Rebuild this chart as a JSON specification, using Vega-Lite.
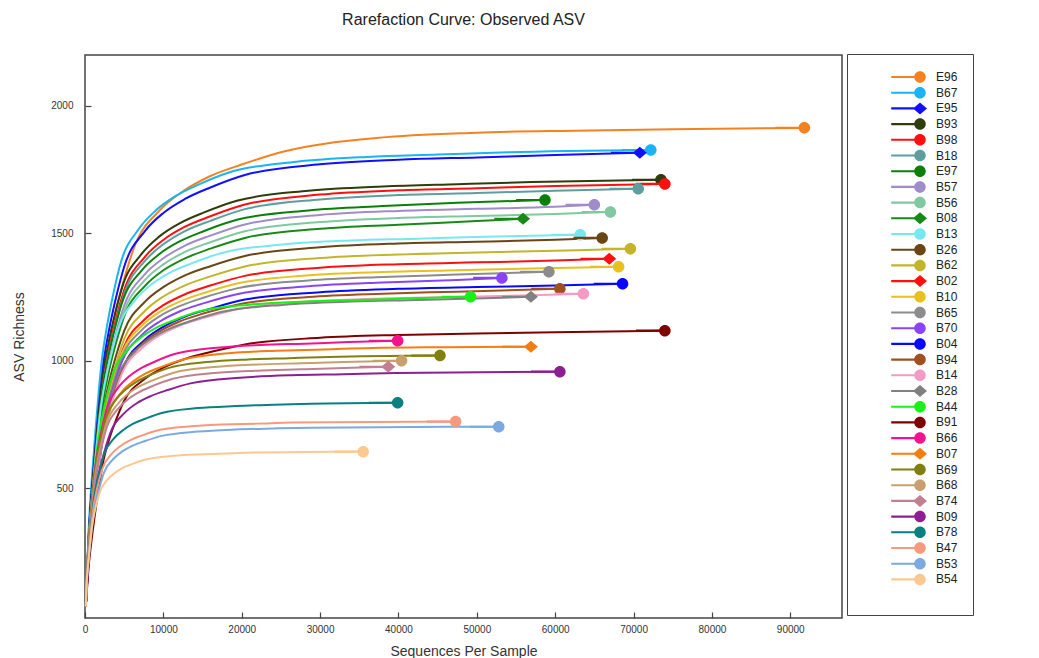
{
"$schema":"https://vega.github.io/schema/vega-lite/v6.json",
"width":757,"height":563,
"autosize":{"type":"none"},
"padding":{"left":85,"top":55,"right":197,"bottom":40},
"background":"white",
"title":{"text":"Rarefaction Curve: Observed ASV","fontSize":16,"fontWeight":"normal","font":"Liberation Sans","color":"#222","offset":26,"anchor":"middle"},
"datasets":{"curves":[
{"s":"E96","x":100,"y":35},{"s":"E96","x":625,"y":345},{"s":"E96","x":1250,"y":574},{"s":"E96","x":1875,"y":766},{"s":"E96","x":3000,"y":1053},{"s":"E96","x":3875,"y":1187},{"s":"E96","x":5000,"y":1321},{"s":"E96","x":6250,"y":1443},{"s":"E96","x":9500,"y":1589},{"s":"E96","x":12500,"y":1665},{"s":"E96","x":15875,"y":1723},{"s":"E96","x":20000,"y":1770},{"s":"E96","x":25500,"y":1822},{"s":"E96","x":37500,"y":1875},{"s":"E96","x":50000,"y":1895},{"s":"E96","x":62500,"y":1903},{"s":"E96","x":75000,"y":1909},{"s":"E96","x":91800,"y":1914},
{"s":"B67","x":100,"y":35},{"s":"B67","x":450,"y":329},{"s":"B67","x":900,"y":548},{"s":"B67","x":1350,"y":731},{"s":"B67","x":2160,"y":1005},{"s":"B67","x":2790,"y":1133},{"s":"B67","x":3600,"y":1261},{"s":"B67","x":4500,"y":1378},{"s":"B67","x":6840,"y":1516},{"s":"B67","x":9000,"y":1589},{"s":"B67","x":11430,"y":1644},{"s":"B67","x":14400,"y":1690},{"s":"B67","x":18360,"y":1739},{"s":"B67","x":27000,"y":1781},{"s":"B67","x":36000,"y":1800},{"s":"B67","x":45000,"y":1809},{"s":"B67","x":54000,"y":1818},{"s":"B67","x":72200,"y":1827},
{"s":"E95","x":100,"y":35},{"s":"E95","x":500,"y":327},{"s":"E95","x":1000,"y":545},{"s":"E95","x":1500,"y":726},{"s":"E95","x":2400,"y":999},{"s":"E95","x":3100,"y":1126},{"s":"E95","x":4000,"y":1253},{"s":"E95","x":5000,"y":1369},{"s":"E95","x":7600,"y":1507},{"s":"E95","x":10000,"y":1580},{"s":"E95","x":12700,"y":1634},{"s":"E95","x":16000,"y":1680},{"s":"E95","x":20400,"y":1729},{"s":"E95","x":30000,"y":1771},{"s":"E95","x":40000,"y":1789},{"s":"E95","x":50000,"y":1798},{"s":"E95","x":60000,"y":1807},{"s":"E95","x":70800,"y":1816},
{"s":"B93","x":100,"y":35},{"s":"B93","x":475,"y":308},{"s":"B93","x":950,"y":513},{"s":"B93","x":1425,"y":684},{"s":"B93","x":2280,"y":941},{"s":"B93","x":2945,"y":1060},{"s":"B93","x":3800,"y":1180},{"s":"B93","x":4750,"y":1289},{"s":"B93","x":7220,"y":1419},{"s":"B93","x":9500,"y":1488},{"s":"B93","x":12065,"y":1539},{"s":"B93","x":15200,"y":1582},{"s":"B93","x":19380,"y":1628},{"s":"B93","x":28500,"y":1667},{"s":"B93","x":38000,"y":1684},{"s":"B93","x":47500,"y":1693},{"s":"B93","x":57000,"y":1701},{"s":"B93","x":73500,"y":1710},
{"s":"B98","x":100,"y":35},{"s":"B98","x":500,"y":305},{"s":"B98","x":1000,"y":508},{"s":"B98","x":1500,"y":678},{"s":"B98","x":2400,"y":932},{"s":"B98","x":3100,"y":1050},{"s":"B98","x":4000,"y":1169},{"s":"B98","x":5000,"y":1277},{"s":"B98","x":7600,"y":1406},{"s":"B98","x":10000,"y":1474},{"s":"B98","x":12700,"y":1525},{"s":"B98","x":16000,"y":1567},{"s":"B98","x":20400,"y":1613},{"s":"B98","x":30000,"y":1652},{"s":"B98","x":40000,"y":1669},{"s":"B98","x":50000,"y":1677},{"s":"B98","x":60000,"y":1686},{"s":"B98","x":74000,"y":1694},
{"s":"B18","x":100,"y":35},{"s":"B18","x":500,"y":302},{"s":"B18","x":1000,"y":503},{"s":"B18","x":1500,"y":670},{"s":"B18","x":2400,"y":921},{"s":"B18","x":3100,"y":1039},{"s":"B18","x":4000,"y":1156},{"s":"B18","x":5000,"y":1263},{"s":"B18","x":7600,"y":1390},{"s":"B18","x":10000,"y":1457},{"s":"B18","x":12700,"y":1508},{"s":"B18","x":16000,"y":1549},{"s":"B18","x":20400,"y":1595},{"s":"B18","x":30000,"y":1633},{"s":"B18","x":40000,"y":1650},{"s":"B18","x":50000,"y":1658},{"s":"B18","x":60000,"y":1667},{"s":"B18","x":70600,"y":1675},
{"s":"E97","x":100,"y":35},{"s":"E97","x":475,"y":294},{"s":"E97","x":950,"y":489},{"s":"E97","x":1425,"y":652},{"s":"E97","x":2280,"y":897},{"s":"E97","x":2945,"y":1011},{"s":"E97","x":3800,"y":1125},{"s":"E97","x":4750,"y":1230},{"s":"E97","x":7220,"y":1354},{"s":"E97","x":9500,"y":1419},{"s":"E97","x":12065,"y":1468},{"s":"E97","x":15200,"y":1509},{"s":"E97","x":19380,"y":1553},{"s":"E97","x":28500,"y":1590},{"s":"E97","x":38000,"y":1607},{"s":"E97","x":47500,"y":1620},{"s":"E97","x":58700,"y":1631},
{"s":"B57","x":100,"y":35},{"s":"B57","x":500,"y":290},{"s":"B57","x":1000,"y":484},{"s":"B57","x":1500,"y":645},{"s":"B57","x":2400,"y":887},{"s":"B57","x":3100,"y":999},{"s":"B57","x":4000,"y":1112},{"s":"B57","x":5000,"y":1215},{"s":"B57","x":7600,"y":1338},{"s":"B57","x":10000,"y":1402},{"s":"B57","x":12700,"y":1451},{"s":"B57","x":16000,"y":1491},{"s":"B57","x":20400,"y":1535},{"s":"B57","x":30000,"y":1572},{"s":"B57","x":40000,"y":1588},{"s":"B57","x":50000,"y":1596},{"s":"B57","x":60000,"y":1604},{"s":"B57","x":65000,"y":1612},
{"s":"B56","x":100,"y":35},{"s":"B56","x":500,"y":285},{"s":"B56","x":1000,"y":475},{"s":"B56","x":1500,"y":634},{"s":"B56","x":2400,"y":871},{"s":"B56","x":3100,"y":982},{"s":"B56","x":4000,"y":1093},{"s":"B56","x":5000,"y":1194},{"s":"B56","x":7600,"y":1315},{"s":"B56","x":10000,"y":1378},{"s":"B56","x":12700,"y":1426},{"s":"B56","x":16000,"y":1465},{"s":"B56","x":20400,"y":1508},{"s":"B56","x":30000,"y":1544},{"s":"B56","x":40000,"y":1560},{"s":"B56","x":50000,"y":1568},{"s":"B56","x":60000,"y":1576},{"s":"B56","x":67050,"y":1584},
{"s":"B08","x":100,"y":35},{"s":"B08","x":500,"y":280},{"s":"B08","x":1000,"y":467},{"s":"B08","x":1500,"y":623},{"s":"B08","x":2400,"y":856},{"s":"B08","x":3100,"y":965},{"s":"B08","x":4000,"y":1074},{"s":"B08","x":5000,"y":1174},{"s":"B08","x":7600,"y":1292},{"s":"B08","x":10000,"y":1355},{"s":"B08","x":12700,"y":1401},{"s":"B08","x":16000,"y":1440},{"s":"B08","x":20400,"y":1482},{"s":"B08","x":30000,"y":1518},{"s":"B08","x":40000,"y":1534},{"s":"B08","x":50000,"y":1548},{"s":"B08","x":55900,"y":1557},
{"s":"B13","x":100,"y":35},{"s":"B13","x":425,"y":269},{"s":"B13","x":850,"y":448},{"s":"B13","x":1275,"y":598},{"s":"B13","x":2040,"y":822},{"s":"B13","x":2635,"y":926},{"s":"B13","x":3400,"y":1031},{"s":"B13","x":4250,"y":1126},{"s":"B13","x":6460,"y":1240},{"s":"B13","x":8500,"y":1300},{"s":"B13","x":10795,"y":1345},{"s":"B13","x":13600,"y":1382},{"s":"B13","x":17340,"y":1422},{"s":"B13","x":25500,"y":1457},{"s":"B13","x":34000,"y":1472},{"s":"B13","x":42500,"y":1479},{"s":"B13","x":51000,"y":1487},{"s":"B13","x":63200,"y":1494},
{"s":"B26","x":100,"y":35},{"s":"B26","x":500,"y":267},{"s":"B26","x":1000,"y":445},{"s":"B26","x":1500,"y":593},{"s":"B26","x":2400,"y":815},{"s":"B26","x":3100,"y":919},{"s":"B26","x":4000,"y":1023},{"s":"B26","x":5000,"y":1117},{"s":"B26","x":7600,"y":1230},{"s":"B26","x":10000,"y":1289},{"s":"B26","x":12700,"y":1334},{"s":"B26","x":16000,"y":1371},{"s":"B26","x":20400,"y":1411},{"s":"B26","x":30000,"y":1445},{"s":"B26","x":40000,"y":1460},{"s":"B26","x":50000,"y":1467},{"s":"B26","x":60000,"y":1475},{"s":"B26","x":66000,"y":1482},
{"s":"B62","x":100,"y":35},{"s":"B62","x":500,"y":259},{"s":"B62","x":1000,"y":432},{"s":"B62","x":1500,"y":576},{"s":"B62","x":2400,"y":791},{"s":"B62","x":3100,"y":892},{"s":"B62","x":4000,"y":993},{"s":"B62","x":5000,"y":1085},{"s":"B62","x":7600,"y":1194},{"s":"B62","x":10000,"y":1252},{"s":"B62","x":12700,"y":1295},{"s":"B62","x":16000,"y":1331},{"s":"B62","x":20400,"y":1370},{"s":"B62","x":30000,"y":1403},{"s":"B62","x":40000,"y":1417},{"s":"B62","x":50000,"y":1425},{"s":"B62","x":60000,"y":1432},{"s":"B62","x":69600,"y":1439},
{"s":"B02","x":100,"y":35},{"s":"B02","x":500,"y":252},{"s":"B02","x":1000,"y":420},{"s":"B02","x":1500,"y":560},{"s":"B02","x":2400,"y":770},{"s":"B02","x":3100,"y":868},{"s":"B02","x":4000,"y":966},{"s":"B02","x":5000,"y":1056},{"s":"B02","x":7600,"y":1162},{"s":"B02","x":10000,"y":1218},{"s":"B02","x":12700,"y":1260},{"s":"B02","x":16000,"y":1295},{"s":"B02","x":20400,"y":1333},{"s":"B02","x":30000,"y":1365},{"s":"B02","x":40000,"y":1379},{"s":"B02","x":50000,"y":1386},{"s":"B02","x":60000,"y":1393},{"s":"B02","x":66900,"y":1400},
{"s":"B10","x":100,"y":35},{"s":"B10","x":475,"y":246},{"s":"B10","x":950,"y":411},{"s":"B10","x":1425,"y":548},{"s":"B10","x":2280,"y":753},{"s":"B10","x":2945,"y":849},{"s":"B10","x":3800,"y":945},{"s":"B10","x":4750,"y":1032},{"s":"B10","x":7220,"y":1136},{"s":"B10","x":9500,"y":1191},{"s":"B10","x":12065,"y":1232},{"s":"B10","x":15200,"y":1266},{"s":"B10","x":19380,"y":1303},{"s":"B10","x":28500,"y":1335},{"s":"B10","x":38000,"y":1348},{"s":"B10","x":47500,"y":1355},{"s":"B10","x":57000,"y":1362},{"s":"B10","x":68100,"y":1369},
{"s":"B65","x":100,"y":35},{"s":"B65","x":475,"y":243},{"s":"B65","x":950,"y":405},{"s":"B65","x":1425,"y":540},{"s":"B65","x":2280,"y":742},{"s":"B65","x":2945,"y":836},{"s":"B65","x":3800,"y":931},{"s":"B65","x":4750,"y":1017},{"s":"B65","x":7220,"y":1120},{"s":"B65","x":9500,"y":1174},{"s":"B65","x":12065,"y":1214},{"s":"B65","x":15200,"y":1248},{"s":"B65","x":19380,"y":1284},{"s":"B65","x":28500,"y":1315},{"s":"B65","x":38000,"y":1329},{"s":"B65","x":47500,"y":1338},{"s":"B65","x":59200,"y":1349},
{"s":"B70","x":100,"y":35},{"s":"B70","x":475,"y":239},{"s":"B70","x":950,"y":398},{"s":"B70","x":1425,"y":530},{"s":"B70","x":2280,"y":729},{"s":"B70","x":2945,"y":822},{"s":"B70","x":3800,"y":914},{"s":"B70","x":4750,"y":999},{"s":"B70","x":7220,"y":1100},{"s":"B70","x":9500,"y":1153},{"s":"B70","x":12065,"y":1193},{"s":"B70","x":15200,"y":1226},{"s":"B70","x":19380,"y":1261},{"s":"B70","x":28500,"y":1292},{"s":"B70","x":38000,"y":1307},{"s":"B70","x":47500,"y":1317},{"s":"B70","x":53200,"y":1325},
{"s":"B04","x":100,"y":35},{"s":"B04","x":500,"y":234},{"s":"B04","x":1000,"y":391},{"s":"B04","x":1500,"y":521},{"s":"B04","x":2400,"y":716},{"s":"B04","x":3100,"y":807},{"s":"B04","x":4000,"y":898},{"s":"B04","x":5000,"y":982},{"s":"B04","x":7600,"y":1081},{"s":"B04","x":10000,"y":1133},{"s":"B04","x":12700,"y":1172},{"s":"B04","x":16000,"y":1204},{"s":"B04","x":20400,"y":1240},{"s":"B04","x":30000,"y":1269},{"s":"B04","x":40000,"y":1282},{"s":"B04","x":50000,"y":1289},{"s":"B04","x":60000,"y":1295},{"s":"B04","x":68600,"y":1302},
{"s":"B94","x":100,"y":35},{"s":"B94","x":475,"y":231},{"s":"B94","x":950,"y":385},{"s":"B94","x":1425,"y":513},{"s":"B94","x":2280,"y":705},{"s":"B94","x":2945,"y":795},{"s":"B94","x":3800,"y":885},{"s":"B94","x":4750,"y":967},{"s":"B94","x":7220,"y":1064},{"s":"B94","x":9500,"y":1115},{"s":"B94","x":12065,"y":1154},{"s":"B94","x":15200,"y":1186},{"s":"B94","x":19380,"y":1220},{"s":"B94","x":28500,"y":1250},{"s":"B94","x":38000,"y":1263},{"s":"B94","x":47500,"y":1271},{"s":"B94","x":60600,"y":1282},
{"s":"B14","x":100,"y":35},{"s":"B14","x":475,"y":227},{"s":"B14","x":950,"y":379},{"s":"B14","x":1425,"y":505},{"s":"B14","x":2280,"y":695},{"s":"B14","x":2945,"y":783},{"s":"B14","x":3800,"y":871},{"s":"B14","x":4750,"y":952},{"s":"B14","x":7220,"y":1048},{"s":"B14","x":9500,"y":1099},{"s":"B14","x":12065,"y":1137},{"s":"B14","x":15200,"y":1168},{"s":"B14","x":19380,"y":1202},{"s":"B14","x":28500,"y":1231},{"s":"B14","x":38000,"y":1244},{"s":"B14","x":47500,"y":1250},{"s":"B14","x":57000,"y":1257},{"s":"B14","x":63600,"y":1263},
{"s":"B28","x":100,"y":35},{"s":"B28","x":425,"y":225},{"s":"B28","x":850,"y":375},{"s":"B28","x":1275,"y":500},{"s":"B28","x":2040,"y":688},{"s":"B28","x":2635,"y":776},{"s":"B28","x":3400,"y":863},{"s":"B28","x":4250,"y":943},{"s":"B28","x":6460,"y":1038},{"s":"B28","x":8500,"y":1088},{"s":"B28","x":10795,"y":1126},{"s":"B28","x":13600,"y":1157},{"s":"B28","x":17340,"y":1191},{"s":"B28","x":25500,"y":1220},{"s":"B28","x":34000,"y":1232},{"s":"B28","x":42500,"y":1238},{"s":"B28","x":51000,"y":1245},{"s":"B28","x":56900,"y":1251},
{"s":"B44","x":100,"y":35},{"s":"B44","x":350,"y":225},{"s":"B44","x":700,"y":375},{"s":"B44","x":1050,"y":500},{"s":"B44","x":1680,"y":688},{"s":"B44","x":2170,"y":776},{"s":"B44","x":2800,"y":863},{"s":"B44","x":3500,"y":943},{"s":"B44","x":5320,"y":1038},{"s":"B44","x":7000,"y":1088},{"s":"B44","x":8890,"y":1126},{"s":"B44","x":11200,"y":1157},{"s":"B44","x":14280,"y":1191},{"s":"B44","x":21000,"y":1220},{"s":"B44","x":28000,"y":1232},{"s":"B44","x":35000,"y":1238},{"s":"B44","x":42000,"y":1245},{"s":"B44","x":49200,"y":1251},
{"s":"B91","x":100,"y":35},{"s":"B91","x":500,"y":201},{"s":"B91","x":1000,"y":335},{"s":"B91","x":1500,"y":447},{"s":"B91","x":2400,"y":615},{"s":"B91","x":3100,"y":693},{"s":"B91","x":4000,"y":771},{"s":"B91","x":5000,"y":843},{"s":"B91","x":7600,"y":928},{"s":"B91","x":10000,"y":973},{"s":"B91","x":12700,"y":1006},{"s":"B91","x":16000,"y":1034},{"s":"B91","x":20400,"y":1064},{"s":"B91","x":30000,"y":1090},{"s":"B91","x":40000,"y":1101},{"s":"B91","x":50000,"y":1107},{"s":"B91","x":60000,"y":1112},{"s":"B91","x":74000,"y":1118},
{"s":"B66","x":100,"y":35},{"s":"B66","x":280,"y":194},{"s":"B66","x":560,"y":323},{"s":"B66","x":840,"y":431},{"s":"B66","x":1344,"y":593},{"s":"B66","x":1736,"y":668},{"s":"B66","x":2240,"y":744},{"s":"B66","x":2800,"y":813},{"s":"B66","x":4256,"y":895},{"s":"B66","x":5600,"y":938},{"s":"B66","x":7112,"y":970},{"s":"B66","x":8960,"y":997},{"s":"B66","x":11424,"y":1026},{"s":"B66","x":16800,"y":1051},{"s":"B66","x":22400,"y":1062},{"s":"B66","x":28000,"y":1067},{"s":"B66","x":33600,"y":1073},{"s":"B66","x":39900,"y":1078},
{"s":"B07","x":100,"y":35},{"s":"B07","x":305,"y":190},{"s":"B07","x":610,"y":317},{"s":"B07","x":915,"y":422},{"s":"B07","x":1464,"y":580},{"s":"B07","x":1891,"y":654},{"s":"B07","x":2440,"y":728},{"s":"B07","x":3050,"y":795},{"s":"B07","x":4636,"y":876},{"s":"B07","x":6100,"y":918},{"s":"B07","x":7747,"y":950},{"s":"B07","x":9760,"y":976},{"s":"B07","x":12444,"y":1004},{"s":"B07","x":18300,"y":1029},{"s":"B07","x":24400,"y":1039},{"s":"B07","x":30500,"y":1044},{"s":"B07","x":36600,"y":1050},{"s":"B07","x":46000,"y":1053},{"s":"B07","x":56900,"y":1055},
{"s":"B69","x":100,"y":35},{"s":"B69","x":260,"y":184},{"s":"B69","x":520,"y":306},{"s":"B69","x":780,"y":408},{"s":"B69","x":1248,"y":561},{"s":"B69","x":1612,"y":632},{"s":"B69","x":2080,"y":704},{"s":"B69","x":2600,"y":769},{"s":"B69","x":3952,"y":847},{"s":"B69","x":5200,"y":887},{"s":"B69","x":6604,"y":918},{"s":"B69","x":8320,"y":944},{"s":"B69","x":10608,"y":971},{"s":"B69","x":15600,"y":995},{"s":"B69","x":20800,"y":1005},{"s":"B69","x":26000,"y":1010},{"s":"B69","x":31200,"y":1015},{"s":"B69","x":45300,"y":1020},
{"s":"B68","x":100,"y":35},{"s":"B68","x":275,"y":180},{"s":"B68","x":550,"y":300},{"s":"B68","x":825,"y":400},{"s":"B68","x":1320,"y":550},{"s":"B68","x":1705,"y":620},{"s":"B68","x":2200,"y":690},{"s":"B68","x":2750,"y":754},{"s":"B68","x":4180,"y":830},{"s":"B68","x":5500,"y":870},{"s":"B68","x":6985,"y":900},{"s":"B68","x":8800,"y":925},{"s":"B68","x":11220,"y":952},{"s":"B68","x":16500,"y":975},{"s":"B68","x":22000,"y":985},{"s":"B68","x":27500,"y":990},{"s":"B68","x":33000,"y":995},{"s":"B68","x":40400,"y":1000},
{"s":"B74","x":100,"y":35},{"s":"B74","x":275,"y":176},{"s":"B74","x":550,"y":293},{"s":"B74","x":825,"y":390},{"s":"B74","x":1320,"y":537},{"s":"B74","x":1705,"y":605},{"s":"B74","x":2200,"y":673},{"s":"B74","x":2750,"y":736},{"s":"B74","x":4180,"y":810},{"s":"B74","x":5500,"y":849},{"s":"B74","x":6985,"y":878},{"s":"B74","x":8800,"y":903},{"s":"B74","x":11220,"y":929},{"s":"B74","x":16500,"y":952},{"s":"B74","x":22000,"y":961},{"s":"B74","x":27500,"y":966},{"s":"B74","x":33000,"y":971},{"s":"B74","x":38700,"y":976},
{"s":"B09","x":100,"y":35},{"s":"B09","x":330,"y":172},{"s":"B09","x":660,"y":287},{"s":"B09","x":990,"y":383},{"s":"B09","x":1584,"y":526},{"s":"B09","x":2046,"y":593},{"s":"B09","x":2640,"y":660},{"s":"B09","x":3300,"y":722},{"s":"B09","x":5016,"y":794},{"s":"B09","x":6600,"y":833},{"s":"B09","x":8382,"y":861},{"s":"B09","x":10560,"y":885},{"s":"B09","x":13464,"y":911},{"s":"B09","x":19800,"y":933},{"s":"B09","x":26400,"y":943},{"s":"B09","x":33000,"y":947},{"s":"B09","x":39600,"y":952},{"s":"B09","x":60600,"y":957},
{"s":"B78","x":100,"y":35},{"s":"B78","x":240,"y":150},{"s":"B78","x":480,"y":251},{"s":"B78","x":720,"y":334},{"s":"B78","x":1152,"y":459},{"s":"B78","x":1488,"y":518},{"s":"B78","x":1920,"y":576},{"s":"B78","x":2400,"y":630},{"s":"B78","x":3648,"y":693},{"s":"B78","x":4800,"y":726},{"s":"B78","x":6096,"y":752},{"s":"B78","x":7680,"y":772},{"s":"B78","x":9792,"y":795},{"s":"B78","x":14400,"y":814},{"s":"B78","x":19200,"y":822},{"s":"B78","x":24000,"y":827},{"s":"B78","x":28800,"y":831},{"s":"B78","x":39900,"y":835},
{"s":"B47","x":100,"y":35},{"s":"B47","x":220,"y":137},{"s":"B47","x":440,"y":228},{"s":"B47","x":660,"y":304},{"s":"B47","x":1056,"y":419},{"s":"B47","x":1364,"y":472},{"s":"B47","x":1760,"y":525},{"s":"B47","x":2200,"y":574},{"s":"B47","x":3344,"y":632},{"s":"B47","x":4400,"y":662},{"s":"B47","x":5588,"y":685},{"s":"B47","x":7040,"y":704},{"s":"B47","x":8976,"y":724},{"s":"B47","x":13200,"y":742},{"s":"B47","x":17600,"y":750},{"s":"B47","x":22000,"y":753},{"s":"B47","x":26400,"y":757},{"s":"B47","x":47300,"y":761},
{"s":"B53","x":100,"y":35},{"s":"B53","x":240,"y":133},{"s":"B53","x":480,"y":222},{"s":"B53","x":720,"y":296},{"s":"B53","x":1152,"y":408},{"s":"B53","x":1488,"y":459},{"s":"B53","x":1920,"y":511},{"s":"B53","x":2400,"y":559},{"s":"B53","x":3648,"y":615},{"s":"B53","x":4800,"y":645},{"s":"B53","x":6096,"y":667},{"s":"B53","x":7680,"y":685},{"s":"B53","x":9792,"y":705},{"s":"B53","x":14400,"y":722},{"s":"B53","x":19200,"y":730},{"s":"B53","x":24000,"y":734},{"s":"B53","x":28800,"y":737},{"s":"B53","x":52800,"y":741},
{"s":"B54","x":100,"y":35},{"s":"B54","x":190,"y":116},{"s":"B54","x":380,"y":193},{"s":"B54","x":570,"y":257},{"s":"B54","x":912,"y":354},{"s":"B54","x":1178,"y":399},{"s":"B54","x":1520,"y":444},{"s":"B54","x":1900,"y":485},{"s":"B54","x":2888,"y":534},{"s":"B54","x":3800,"y":559},{"s":"B54","x":4826,"y":579},{"s":"B54","x":6080,"y":595},{"s":"B54","x":7752,"y":612},{"s":"B54","x":11400,"y":627},{"s":"B54","x":15200,"y":633},{"s":"B54","x":19000,"y":637},{"s":"B54","x":22800,"y":640},{"s":"B54","x":35500,"y":643}
]},
"data":{"name":"curves"},
"layer":[
{"mark":{"type":"line","strokeWidth":2,"interpolate":"monotone"},
 "encoding":{
  "x":{"field":"x","type":"quantitative","scale":{"domain":[0,96600],"nice":false,"zero":false},
       "axis":{"values":[0,10000,20000,30000,40000,50000,60000,70000,80000,90000],"format":"d","title":"Sequences Per Sample","labelPadding":12,"titlePadding":10}},
  "y":{"field":"y","type":"quantitative","scale":{"domain":[-10,2200],"nice":false,"zero":false},
       "axis":{"values":[500,1000,1500,2000],"format":"d","title":"ASV Richness","labelPadding":18,"titlePadding":24}},
  "color":{"field":"s","type":"nominal",
    "scale":{"domain":["E96","B67","E95","B93","B98","B18","E97","B57","B56","B08","B13","B26","B62","B02","B10","B65","B70","B04","B94","B14","B28","B44","B91","B66","B07","B69","B68","B74","B09","B78","B47","B53","B54"],
    "range":["#f58220","#18b4f5","#1010ff","#2e3d0c","#ff1010","#5f9e9e","#0a800a","#a08cc8","#80c8a0","#168a16","#78e8f0","#6b4614","#c4b42c","#ff1010","#e8c020","#8c8c8c","#8a44f8","#0808ff","#a0501e","#f49ac4","#808080","#18f018","#800000","#f01490","#f57d10","#808010","#c8a070","#c08090","#8c2090","#0a8080","#f59a7c","#7aaae0","#fcc890"]},
    "legend":{"title":"\u00a0\u00a0\u00a0\u00a0\u00a0\u00a0\u00a0\u00a0\u00a0\u00a0\u00a0\u00a0\u00a0\u00a0\u00a0\u00a0\u00a0\u00a0\u00a0\u00a0\u00a0\u00a0\u00a0\u00a0\u00a0\u00a0\u00a0\u00a0\u00a0\u00a0\u00a0\u00a0\u00a0\u00a0\u00a0\u00a0\u00a0\u00a0\u00a0\u00a0\u00a0\u00a0\u00a0\u00a0\u00a0\u00a0\u00a0\u00a0\u00a0\u00a0","titleOrient":"bottom","orient":"none","legendX":762,"legendY":-1}}
 }},
{"transform":[{"aggregate":[{"op":"max","field":"x","as":"x"},{"op":"max","field":"y","as":"y"}],"groupby":["s"]}],
 "mark":{"type":"point","filled":true,"size":256,"opacity":1},
 "encoding":{
  "x":{"field":"x","type":"quantitative"},
  "y":{"field":"y","type":"quantitative"},
  "color":{"field":"s","type":"nominal",
    "legend":{"title":"\u00a0\u00a0\u00a0\u00a0\u00a0\u00a0\u00a0\u00a0\u00a0\u00a0\u00a0\u00a0\u00a0\u00a0\u00a0\u00a0\u00a0\u00a0\u00a0\u00a0\u00a0\u00a0\u00a0\u00a0\u00a0\u00a0\u00a0\u00a0\u00a0\u00a0\u00a0\u00a0\u00a0\u00a0\u00a0\u00a0\u00a0\u00a0\u00a0\u00a0\u00a0\u00a0\u00a0\u00a0\u00a0\u00a0\u00a0\u00a0\u00a0\u00a0","titleOrient":"bottom","orient":"none","legendX":762,"legendY":-1}},
  "shape":{"field":"s","type":"nominal",
    "scale":{"domain":["E96","B67","E95","B93","B98","B18","E97","B57","B56","B08","B13","B26","B62","B02","B10","B65","B70","B04","B94","B14","B28","B44","B91","B66","B07","B69","B68","B74","B09","B78","B47","B53","B54"],
    "range":["M-3.6,-0.13L-0.5,-0.13L-0.5,0.13L-3.6,0.13ZM0.72,0A0.72,0.72,0,1,1,-0.72,0A0.72,0.72,0,1,1,0.72,0Z","M-3.6,-0.13L-0.5,-0.13L-0.5,0.13L-3.6,0.13ZM0.72,0A0.72,0.72,0,1,1,-0.72,0A0.72,0.72,0,1,1,0.72,0Z","M-3.6,-0.13L-0.5,-0.13L-0.5,0.13L-3.6,0.13ZM0,-0.75L0.875,0L0,0.75L-0.875,0Z","M-3.6,-0.13L-0.5,-0.13L-0.5,0.13L-3.6,0.13ZM0.72,0A0.72,0.72,0,1,1,-0.72,0A0.72,0.72,0,1,1,0.72,0Z","M-3.6,-0.13L-0.5,-0.13L-0.5,0.13L-3.6,0.13ZM0.72,0A0.72,0.72,0,1,1,-0.72,0A0.72,0.72,0,1,1,0.72,0Z","M-3.6,-0.13L-0.5,-0.13L-0.5,0.13L-3.6,0.13ZM0.72,0A0.72,0.72,0,1,1,-0.72,0A0.72,0.72,0,1,1,0.72,0Z","M-3.6,-0.13L-0.5,-0.13L-0.5,0.13L-3.6,0.13ZM0.72,0A0.72,0.72,0,1,1,-0.72,0A0.72,0.72,0,1,1,0.72,0Z","M-3.6,-0.13L-0.5,-0.13L-0.5,0.13L-3.6,0.13ZM0.72,0A0.72,0.72,0,1,1,-0.72,0A0.72,0.72,0,1,1,0.72,0Z","M-3.6,-0.13L-0.5,-0.13L-0.5,0.13L-3.6,0.13ZM0.72,0A0.72,0.72,0,1,1,-0.72,0A0.72,0.72,0,1,1,0.72,0Z","M-3.6,-0.13L-0.5,-0.13L-0.5,0.13L-3.6,0.13ZM0,-0.75L0.875,0L0,0.75L-0.875,0Z","M-3.6,-0.13L-0.5,-0.13L-0.5,0.13L-3.6,0.13ZM0.72,0A0.72,0.72,0,1,1,-0.72,0A0.72,0.72,0,1,1,0.72,0Z","M-3.6,-0.13L-0.5,-0.13L-0.5,0.13L-3.6,0.13ZM0.72,0A0.72,0.72,0,1,1,-0.72,0A0.72,0.72,0,1,1,0.72,0Z","M-3.6,-0.13L-0.5,-0.13L-0.5,0.13L-3.6,0.13ZM0.72,0A0.72,0.72,0,1,1,-0.72,0A0.72,0.72,0,1,1,0.72,0Z","M-3.6,-0.13L-0.5,-0.13L-0.5,0.13L-3.6,0.13ZM0,-0.75L0.875,0L0,0.75L-0.875,0Z","M-3.6,-0.13L-0.5,-0.13L-0.5,0.13L-3.6,0.13ZM0.72,0A0.72,0.72,0,1,1,-0.72,0A0.72,0.72,0,1,1,0.72,0Z","M-3.6,-0.13L-0.5,-0.13L-0.5,0.13L-3.6,0.13ZM0.72,0A0.72,0.72,0,1,1,-0.72,0A0.72,0.72,0,1,1,0.72,0Z","M-3.6,-0.13L-0.5,-0.13L-0.5,0.13L-3.6,0.13ZM0.72,0A0.72,0.72,0,1,1,-0.72,0A0.72,0.72,0,1,1,0.72,0Z","M-3.6,-0.13L-0.5,-0.13L-0.5,0.13L-3.6,0.13ZM0.72,0A0.72,0.72,0,1,1,-0.72,0A0.72,0.72,0,1,1,0.72,0Z","M-3.6,-0.13L-0.5,-0.13L-0.5,0.13L-3.6,0.13ZM0.72,0A0.72,0.72,0,1,1,-0.72,0A0.72,0.72,0,1,1,0.72,0Z","M-3.6,-0.13L-0.5,-0.13L-0.5,0.13L-3.6,0.13ZM0.72,0A0.72,0.72,0,1,1,-0.72,0A0.72,0.72,0,1,1,0.72,0Z","M-3.6,-0.13L-0.5,-0.13L-0.5,0.13L-3.6,0.13ZM0,-0.75L0.875,0L0,0.75L-0.875,0Z","M-3.6,-0.13L-0.5,-0.13L-0.5,0.13L-3.6,0.13ZM0.72,0A0.72,0.72,0,1,1,-0.72,0A0.72,0.72,0,1,1,0.72,0Z","M-3.6,-0.13L-0.5,-0.13L-0.5,0.13L-3.6,0.13ZM0.72,0A0.72,0.72,0,1,1,-0.72,0A0.72,0.72,0,1,1,0.72,0Z","M-3.6,-0.13L-0.5,-0.13L-0.5,0.13L-3.6,0.13ZM0.72,0A0.72,0.72,0,1,1,-0.72,0A0.72,0.72,0,1,1,0.72,0Z","M-3.6,-0.13L-0.5,-0.13L-0.5,0.13L-3.6,0.13ZM0,-0.75L0.875,0L0,0.75L-0.875,0Z","M-3.6,-0.13L-0.5,-0.13L-0.5,0.13L-3.6,0.13ZM0.72,0A0.72,0.72,0,1,1,-0.72,0A0.72,0.72,0,1,1,0.72,0Z","M-3.6,-0.13L-0.5,-0.13L-0.5,0.13L-3.6,0.13ZM0.72,0A0.72,0.72,0,1,1,-0.72,0A0.72,0.72,0,1,1,0.72,0Z","M-3.6,-0.13L-0.5,-0.13L-0.5,0.13L-3.6,0.13ZM0,-0.75L0.875,0L0,0.75L-0.875,0Z","M-3.6,-0.13L-0.5,-0.13L-0.5,0.13L-3.6,0.13ZM0.72,0A0.72,0.72,0,1,1,-0.72,0A0.72,0.72,0,1,1,0.72,0Z","M-3.6,-0.13L-0.5,-0.13L-0.5,0.13L-3.6,0.13ZM0.72,0A0.72,0.72,0,1,1,-0.72,0A0.72,0.72,0,1,1,0.72,0Z","M-3.6,-0.13L-0.5,-0.13L-0.5,0.13L-3.6,0.13ZM0.72,0A0.72,0.72,0,1,1,-0.72,0A0.72,0.72,0,1,1,0.72,0Z","M-3.6,-0.13L-0.5,-0.13L-0.5,0.13L-3.6,0.13ZM0.72,0A0.72,0.72,0,1,1,-0.72,0A0.72,0.72,0,1,1,0.72,0Z","M-3.6,-0.13L-0.5,-0.13L-0.5,0.13L-3.6,0.13ZM0.72,0A0.72,0.72,0,1,1,-0.72,0A0.72,0.72,0,1,1,0.72,0Z"]},
    "legend":{"title":"\u00a0\u00a0\u00a0\u00a0\u00a0\u00a0\u00a0\u00a0\u00a0\u00a0\u00a0\u00a0\u00a0\u00a0\u00a0\u00a0\u00a0\u00a0\u00a0\u00a0\u00a0\u00a0\u00a0\u00a0\u00a0\u00a0\u00a0\u00a0\u00a0\u00a0\u00a0\u00a0\u00a0\u00a0\u00a0\u00a0\u00a0\u00a0\u00a0\u00a0\u00a0\u00a0\u00a0\u00a0\u00a0\u00a0\u00a0\u00a0\u00a0\u00a0","titleOrient":"bottom","orient":"none","legendX":762,"legendY":-1}}
 }}
],
"config":{
 "view":{"stroke":"#444","strokeWidth":1.5},
 "axis":{"domain":false,"grid":false,"tickColor":"#444","tickSize":-6,"tickWidth":1.2,"labelFont":"Liberation Sans","labelFontSize":10,"labelColor":"#333","titleFont":"Liberation Sans","titleFontSize":14,"titleFontWeight":"normal","titleColor":"#333","labelFlush":false},
 "legend":{"strokeColor":"#444","fillColor":"white","padding":15,"symbolSize":256,"symbolStrokeWidth":0,"symbolOffset":50,"labelOffset":8,"rowPadding":1.7,"symbolLimit":50,"labelFont":"Liberation Sans","labelFontSize":12,"labelColor":"#222","labelLimit":500,"titleFont":"Liberation Sans","titleFontSize":12,"titlePadding":4,"titleLimit":400}
}
}
